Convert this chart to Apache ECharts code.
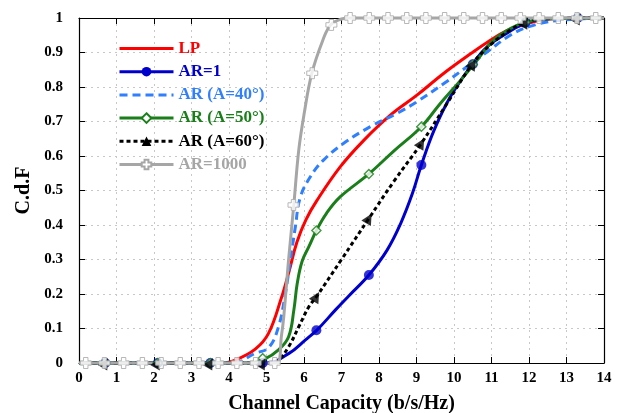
<!DOCTYPE html>
<html><head><meta charset="utf-8">
<script src="https://cdn.jsdelivr.net/npm/echarts@6/dist/echarts.min.js"></script>
<style>html,body{margin:0;padding:0;background:#fff}#c{width:623px;height:413px}</style>
</head><body><div id="c"></div>
<script>
// ---- data ----
const seriesNames = ['LP', 'AR=1', 'AR (A=40°)', 'AR (A=50°)', 'AR (A=60°)', 'AR=1000'];
const xTicks = [0,1,2,3,4,5,6,7,8,9,10,11,12,13,14];

const lpX = [0, 3.8, 4.2, 4.7, 5.05, 5.4, 5.6, 5.81, 6.05, 6.35, 6.97, 7.6, 8.31, 9.02, 9.73, 10.45, 10.89, 11.4, 12.0, 12.6, 14];
const lpY = [0, 0, 0.01, 0.04, 0.085, 0.19, 0.265, 0.35, 0.415, 0.472, 0.569, 0.646, 0.719, 0.777, 0.84, 0.897, 0.93, 0.963, 0.985, 0.998, 1];

const ar1X = [0, 5.0, 5.6, 6.04, 6.35, 6.84, 7.2, 7.73, 8.22, 8.58, 8.89, 9.13, 9.47, 9.91, 10.45, 10.89, 11.4, 11.9, 12.5, 14];
const ar1Y = [0, 0, 0.028, 0.067, 0.096, 0.154, 0.195, 0.255, 0.328, 0.405, 0.491, 0.574, 0.675, 0.773, 0.86, 0.917, 0.955, 0.985, 0.998, 1];
const ar1MarkX = [0.7, 2.1, 3.5, 4.9, 6.33, 7.73, 9.13, 10.5, 11.9, 13.3];
const ar1MarkY = [0, 0, 0, 0, 0.095, 0.255, 0.574, 0.866, 0.986, 1];

const a40X = [0, 4.1, 4.7, 5.06, 5.32, 5.5, 5.64, 5.77, 5.9, 6.17, 6.52, 7.06, 7.77, 8.49, 9.02, 9.73, 10.36, 10.9, 11.5, 12.0, 12.7, 14];
const a40Y = [0, 0, 0.028, 0.045, 0.105, 0.2, 0.3, 0.395, 0.48, 0.54, 0.588, 0.637, 0.685, 0.724, 0.758, 0.81, 0.86, 0.903, 0.95, 0.975, 0.992, 1];

const a50X = [0, 4.5, 4.97, 5.32, 5.59, 5.73, 5.82, 5.95, 6.13, 6.33, 6.6, 6.97, 7.73, 8.4, 9.13, 9.64, 10.18, 10.62, 11.0, 11.4, 11.9, 12.5, 14];
const a50Y = [0, 0, 0.013, 0.038, 0.076, 0.154, 0.231, 0.295, 0.337, 0.384, 0.434, 0.482, 0.548, 0.615, 0.685, 0.753, 0.82, 0.878, 0.93, 0.963, 0.988, 0.998, 1];
const a50MarkX = [0.7, 2.1, 3.5, 4.9, 6.33, 7.73, 9.13, 10.5, 11.9, 13.3];
const a50MarkY = [0, 0, 0, 0.014, 0.384, 0.548, 0.685, 0.865, 0.988, 1];

const a60X = [0, 5.1, 5.32, 5.59, 5.86, 6.13, 6.33, 7.0, 7.73, 8.4, 9.13, 9.8, 10.5, 11.0, 11.5, 11.9, 12.5, 14];
const a60Y = [0, 0, 0.009, 0.047, 0.105, 0.163, 0.192, 0.3, 0.419, 0.527, 0.637, 0.75, 0.868, 0.925, 0.965, 0.988, 0.998, 1];
const a60MarkX = [0.7, 2.1, 3.5, 4.9, 6.33, 7.73, 9.13, 10.5, 11.9, 13.3];
const a60MarkY = [0, 0, 0, 0, 0.192, 0.419, 0.637, 0.866, 0.988, 1];

const ar1000X = [0, 5.28, 5.4, 5.46, 5.59, 5.73, 5.86, 6.0, 6.21, 6.5, 6.71, 7.0, 7.21, 14];
const ar1000Y = [0, 0, 0.08, 0.134, 0.3, 0.46, 0.617, 0.72, 0.84, 0.935, 0.98, 0.997, 1, 1];
const ar1000MarkX = [0.18, 0.68, 1.19, 1.69, 2.19, 2.70, 3.20, 3.71, 4.21, 4.71, 5.22, 5.72, 6.22, 6.73, 7.23, 7.74, 8.24, 8.74, 9.25, 9.75, 10.26, 10.76, 11.26, 11.77, 12.27, 12.78, 13.28, 13.78];
const ar1000MarkY = [0, 0, 0, 0, 0, 0, 0, 0, 0, 0, 0, 0.458, 0.84, 0.98, 1, 1, 1, 1, 1, 1, 1, 1, 1, 1, 1, 1, 1, 1];

// ---- styles ----
const FONT = '"Liberation Serif", "Times New Roman", serif';
const colors = ['#ff0000', '#0000cc', '#2f7fff', '#1a7f1a', '#000000', '#a6a6a6'];
const plusPath = 'path://M3,0 L7,0 L7,3 L10,3 L10,7 L7,7 L7,10 L3,10 L3,7 L0,7 L0,3 L3,3 Z';

function pairs(xs, ys) { return xs.map((x, i) => [x, ys[i]]); }

function lineSeries(name, xs, ys, color, type, symbol, symSize, symStyle, z) {
  return {
    name: name, type: 'line', data: pairs(xs, ys),
    smooth: 0.4,
    showSymbol: false, symbol: symbol || 'circle', symbolSize: symSize || 0,
    itemStyle: symStyle || { color: color, opacity: 0 },
    lineStyle: { color: color, width: 3, type: type || 'solid', cap: 'butt' },
    clip: false, z: z, animation: false
  };
}
function markSeries(name, xs, ys, symbol, size, style, z, rot) {
  return {
    name: name, type: 'scatter', data: pairs(xs, ys), symbol: symbol, symbolSize: size,
    symbolRotate: rot || 0, itemStyle: style, clip: false, z: z, animation: false
  };
}

const series = [
  lineSeries(seriesNames[0], lpX, lpY, colors[0], 'solid', null, 0, null, 2),
  lineSeries(seriesNames[1], ar1X, ar1Y, colors[1], 'solid', 'circle', 10, { color: colors[1] }, 3),
  lineSeries(seriesNames[2], a40X, a40Y, colors[2], [8, 5], null, 0, null, 4),
  lineSeries(seriesNames[3], a50X, a50Y, colors[3], 'solid', 'diamond', 9, { color: '#fff', borderColor: colors[3], borderWidth: 1.5 }, 5),
  lineSeries(seriesNames[4], a60X, a60Y, colors[4], [4, 3], 'triangle', 11, { color: colors[4] }, 6),
  lineSeries(seriesNames[5], ar1000X, ar1000Y, colors[5], 'solid', plusPath, 11, { color: '#fff', borderColor: colors[5], borderWidth: 1 }, 7),
  markSeries(seriesNames[1], ar1MarkX, ar1MarkY, 'circle', 10, { color: colors[1] }, 8),
  markSeries(seriesNames[3], a50MarkX, a50MarkY, 'diamond', 9, { color: '#fff', borderColor: colors[3], borderWidth: 1.5 }, 9),
  markSeries(seriesNames[4], a60MarkX, a60MarkY, 'triangle', 11, { color: colors[4] }, 10, -30),
  markSeries(seriesNames[5], ar1000MarkX, ar1000MarkY, plusPath, 11, { color: '#fff', borderColor: colors[5], borderWidth: 1 }, 11)
];

const axisLabel = { fontFamily: FONT, fontWeight: 'bold', fontSize: 15, color: '#000' };
const split = { show: true, lineStyle: { color: '#c8c8c8', type: [2, 4], width: 1 } };

const chart = echarts.init(document.getElementById('c'), null, { renderer: 'canvas' });
chart.setOption({
  animation: false,
  backgroundColor: '#fff',
  grid: { left: 79, right: 19, top: 18, bottom: 50, containLabel: false, outerBoundsMode: 'none' },
  legend: {
    orient: 'vertical', left: 113, top: 35,
    itemWidth: 54, itemHeight: 12, itemGap: 6.2,
    lineStyle: { width: 3 },
    data: seriesNames.map((n, i) => ({ name: n, textStyle: { color: colors[i] } })),
    textStyle: { fontFamily: FONT, fontWeight: 'bold', fontSize: 17 },
    selectedMode: false
  },
  xAxis: [
    { type: 'value', min: 0, max: 14, interval: 1, position: 'bottom',
      name: 'Channel Capacity (b/s/Hz)', nameLocation: 'middle', nameGap: 31,
      nameTextStyle: { fontFamily: FONT, fontWeight: 'bold', fontSize: 20, color: '#000' },
      axisLine: { onZero: false, lineStyle: { color: '#000', width: 1.2 } },
      axisTick: { inside: true, length: 6, lineStyle: { color: '#000' } },
      axisLabel: Object.assign({ margin: 8 }, axisLabel),
      splitLine: split },
    { type: 'value', min: 0, max: 14, interval: 1, position: 'top',
      axisLine: { onZero: false, lineStyle: { color: '#000', width: 1.2 } },
      axisTick: { inside: true, length: 6, lineStyle: { color: '#000' } },
      axisLabel: { show: false }, splitLine: { show: false } }
  ],
  yAxis: [
    { type: 'value', min: 0, max: 1, interval: 0.1, position: 'left',
      name: 'C.d.F', nameLocation: 'middle', nameGap: 45, nameRotate: 90,
      nameTextStyle: { fontFamily: FONT, fontWeight: 'bold', fontSize: 20, color: '#000' },
      axisLine: { show: true, onZero: false, lineStyle: { color: '#000', width: 1.2 } },
      axisTick: { show: true, inside: true, length: 6, lineStyle: { color: '#000' } },
      axisLabel: Object.assign({ margin: 16, formatter: v => (Math.round(v * 10) / 10).toString() }, axisLabel),
      splitLine: split },
    { type: 'value', min: 0, max: 1, interval: 0.1, position: 'right',
      axisLine: { show: true, onZero: false, lineStyle: { color: '#000', width: 1.2 } },
      axisTick: { show: true, inside: true, length: 6, lineStyle: { color: '#000' } },
      axisLabel: { show: false }, splitLine: { show: false } }
  ],
  series: series
});
</script></body></html>
